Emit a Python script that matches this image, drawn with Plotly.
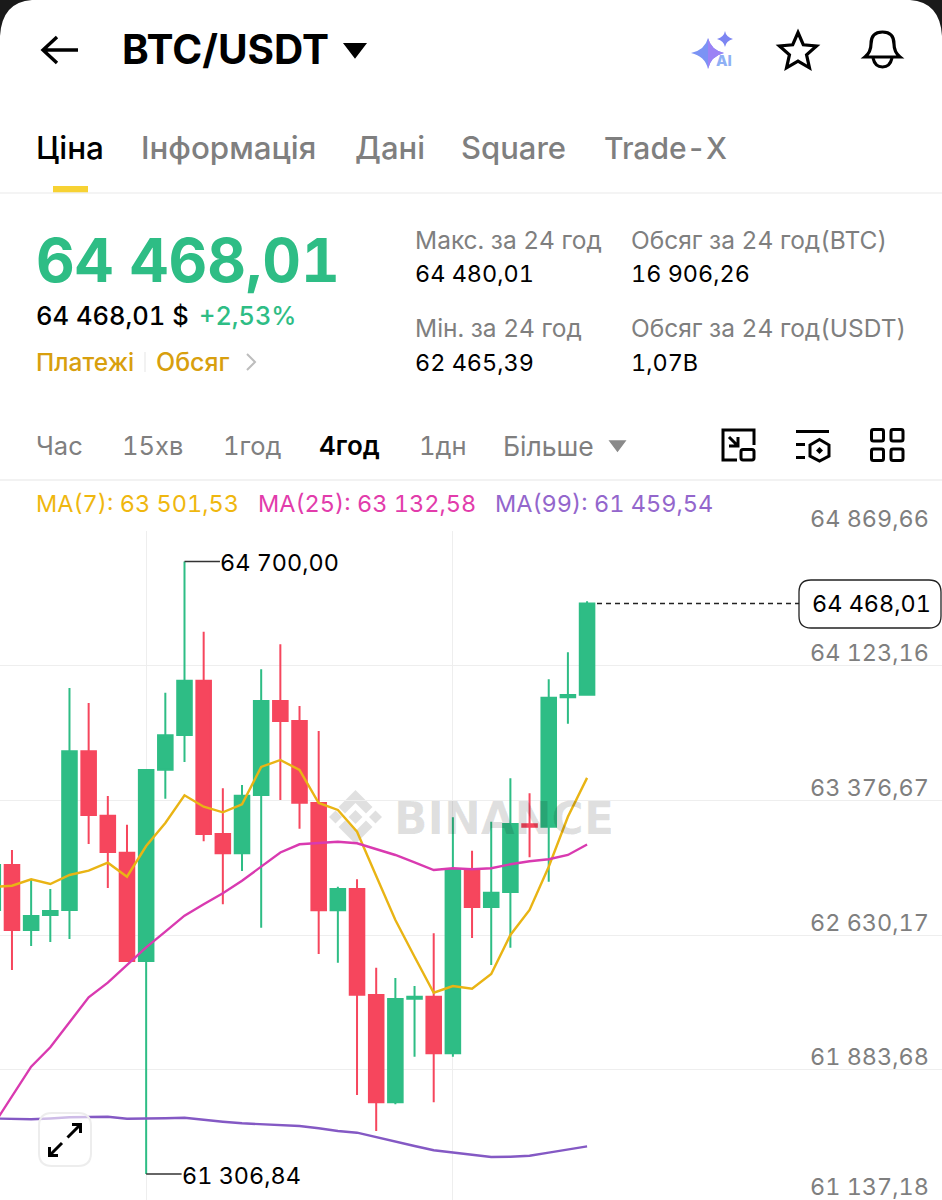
import re
import math
import plotly.graph_objects as go

# BTC/USDT 4h candles
candle_index = list(range(32))
opens = [62769.4, 63018.8, 62658.6, 62741.7, 62769.4, 63648.9, 63292.0, 63086.9,
         62486.8, 63546.9, 63739.2, 64040.1, 63190.6, 63083.6, 63406.7, 63927.6,
         63816.8, 63362.3, 62767.7, 62885.8, 62298.4, 61703.8, 62277.9, 62288.9,
         61975.3, 62995.0, 62786.0, 62869.1, 63244.3, 63231.0, 63948.1, 63962.5]
closes = [63018.8, 62658.6, 62736.1, 62763.9, 63648.9, 63295.9, 63090.8, 62486.8,
          63545.2, 63737.5, 64040.1, 63190.6, 63083.6, 63402.8, 63927.6, 63816.8,
          63364.0, 62767.7, 62885.8, 62300.0, 61703.8, 62276.2, 62288.9, 61975.3,
          62996.6, 62786.0, 62865.3, 63246.0, 63231.0, 63945.9, 63960.9, 64468.01]
highs = [63046.5, 63101.9, 62941.2, 62885.8, 63999.7, 63916.5, 63401.2, 63242.1,
         63550.8, 63973.6, 64700.0, 64311.7, 63443.8, 63462.1, 64103.3, 64241.8,
         63899.9, 63761.3, 62898.5, 62939.5, 62449.7, 62392.6, 62348.2, 62640.3,
         63283.1, 63098.0, 63258.8, 63499.2, 63416.1, 64047.9, 64197.5, 64480.01]
lows = [62741.7, 62436.9, 62569.9, 62592.1, 62608.7, 63135.1, 62891.3, 62486.8,
        61306.84, 63386.2, 63589.6, 63150.1, 62801.0, 62985.5, 62671.3, 63379.0,
        63219.9, 62525.6, 62477.4, 61744.2, 61544.6, 61692.7, 61956.4, 61703.8,
        61956.4, 62614.2, 62464.6, 62560.5, 63061.4, 62926.2, 63801.8, 63962.5]

ma7 = [62896.8, 62904.1, 62939.5, 62913.4, 62963.3, 62987.2, 63031.5, 62953.9,
       63124.1, 63251.5, 63405.0, 63341.9, 63310.8, 63355.2, 63561.9, 63600.7,
       63545.2, 63362.3, 63323.6, 63203.3, 62957.8, 62714.0, 62510.6, 62311.1,
       62348.2, 62333.3, 62414.7, 62630.9, 62769.4, 63009.4, 63286.4, 63501.53]
ma25 = [61572.4, 61738.7, 61901.0, 62008.5, 62150.4, 62285.6, 62366.5, 62464.6,
        62562.7, 62649.2, 62737.8, 62801.0, 62862.0, 62931.8, 63009.4, 63088.0,
        63133.5, 63139.0, 63147.9, 63139.0, 63105.8, 63074.2, 63033.8, 62991.1,
        63000.5, 62995.0, 63000.5, 63022.7, 63039.3, 63050.4, 63074.2, 63132.58]
ma99 = [61613.9, 61612.8, 61609.5, 61613.9, 61620.6, 61622.3, 61623.9, 61612.8,
        61612.8, 61615.6, 61618.4, 61605.7, 61596.2, 61587.3, 61583.5, 61579.6,
        61572.4, 61559.7, 61544.6, 61535.2, 61509.8, 61485.4, 61461.6, 61437.8,
        61424.5, 61411.7, 61400.6, 61402.3, 61407.8, 61424.5, 61441.1, 61459.54]

price_ticks = [64869.66, 64123.16, 63376.67, 62630.17, 61883.68, 61137.18]
price_tick_labels = ["64 869,66", "64 123,16", "63 376,67", "62 630,17", "61 883,68", "61 137,18"]
time_grid = [8, 24]

last_price = 64468.01
high_price = 64700.00
low_price = 61306.84

GREEN = "#2EBD85"
RED = "#F6465D"
GOLD = "#EFB70F"
PINK = "#E23CAB"
PURPLE = "#8459C4"
GREY = "#7F7F7F"
GRID = "#EEEEEE"
FONT = "Inter"

W, H = 942, 1200
PRICE_PER_PX = 5.5417
CHART_TOP = 531
CANDLE_STEP = 19.17
CANDLE_ZERO = -7.2


def px(x):
    return x / W


def py(y):
    return 1 - y / H


def price_paper(price):
    return py(CHART_TOP + (price_ticks[0] - price) / PRICE_PER_PX)


def index_at(x):
    return (x - CANDLE_ZERO) / CANDLE_STEP


def to_paper(d):
    """Rewrite an SVG path given in screen pixels into paper coordinates."""
    out, odd = [], True
    for tok in re.findall(r"[A-Za-z]|-?[\d.]+", d):
        if tok.isalpha():
            out.append(tok)
            odd = True
        else:
            out.append(f"{px(float(tok)) if odd else py(float(tok)):.6f}")
            odd = not odd
    return " ".join(out)


shapes, notes = [], []


def path(d, line=None, width=3.0, fill=None, layer="above"):
    shapes.append(dict(
        type="path", path=to_paper(d), xref="paper", yref="paper", layer=layer,
        line=dict(color=line or "rgba(0,0,0,0)", width=width if line else 0),
        fillcolor=fill or "rgba(0,0,0,0)",
    ))


def round_rect(x0, y0, x1, y1, r):
    return (f"M {x0+r} {y0} L {x1-r} {y0} Q {x1} {y0} {x1} {y0+r} L {x1} {y1-r} "
            f"Q {x1} {y1} {x1-r} {y1} L {x0+r} {y1} Q {x0} {y1} {x0} {y1-r} "
            f"L {x0} {y0+r} Q {x0} {y0} {x0+r} {y0} Z")


def label(x, y, s, size, color="#000000", weight=400, anchor="left", family=FONT):
    notes.append(dict(
        x=px(x), y=py(y), xref="paper", yref="paper", text=s, showarrow=False,
        xanchor=anchor, yanchor="middle", borderpad=0, borderwidth=0,
        font=dict(family=family, size=size, color=color, weight=weight),
    ))


# Screen corners behind the rounded app sheet
path("M 0 0 L 32 0 Q 2 2 0 36 Z", fill="#1A1A1A")
path("M 942 0 L 910 0 Q 940 2 942 36 Z", fill="#1A1A1A")

# Title bar
path("M 78 50 L 43 50 M 57 37 L 43 50 L 57 63", line="#000000", width=3.4)
label(122, 50, "BTC/USDT", 40.5, weight=700)
path("M 345 44 L 365 44 L 355 57 Z", line="#000000", width=2, fill="#000000")
path("M 708 38 Q 711 50 724 53 Q 711 56 708 69 Q 705 56 691 53 Q 705 50 708 38 Z", fill="#7B93F4")
path("M 708 38 Q 711 50 724 53 Q 711 56 708 69 Z", fill="#9C82F5")
path("M 725 31 Q 726 37 733 39 Q 726 41 725 47 Q 724 41 717 39 Q 724 37 725 31 Z", fill="#7C85F2")
label(716, 61, "AI", 15, color="#8FB0F5", weight=800)

star_pts = []
for k in range(10):
    r = 19.5 if k % 2 == 0 else 9
    a = -math.pi / 2 + k * math.pi / 5
    star_pts.append((798 + r * math.cos(a), 52 + r * math.sin(a)))
path("M " + " L ".join(f"{a:.2f} {b:.2f}" for a, b in star_pts) + " Z", line="#000000", width=3.2)
path("M 865 57 Q 871 52 871 44 Q 871 32 882.5 32 Q 894 32 894 44 Q 894 52 900 57 Z", line="#000000", width=3.2)
path("M 873 58 Q 875 67 882.5 67 Q 890 67 892 58", line="#000000", width=3.2)

# Section tabs
label(36, 148, "Ціна", 31.5, weight=500)
label(141, 148, "Інформація", 31.3, color=GREY, weight=500)
label(355, 148, "Дані", 31, color=GREY, weight=500)
label(461, 148, "Square", 31, color=GREY, weight=500)
label(604, 148, "Trade-X", 30, color=GREY, weight=500)
path("M 53 186 L 88 186 L 88 193 L 53 193 Z", fill="#F7D233")
path("M 0 193 L 942 193", line="#F0F0F0", width=1.5)

# Ticker summary
label(36, 260, "64 468,01", 60, color=GREEN, weight=700)
label(36, 316, "64 468,01 $", 25.5, weight=500)
label(199, 316, "+2,53%", 25.3, color=GREEN, weight=500)
label(36, 362, "Платежі", 24.5, color="#D89F0E", weight=500)
path("M 145 352 L 145 372", line="#EEEEEE", width=1.5)
label(156, 362, "Обсяг", 25, color="#D89F0E", weight=500)
path("M 247 354 L 255 362 L 247 370", line="#BDBDBD", width=2)
label(415, 240, "Макс. за 24 год", 24.5, color=GREY)
label(415, 274, "64 480,01", 23.4)
label(415, 328, "Мін. за 24 год", 24.5, color=GREY)
label(415, 362, "62 465,39", 23.4)
label(631, 240, "Обсяг за 24 год(BTC)", 24.5, color=GREY)
label(631, 274, "16 906,26", 23.4)
label(631, 328, "Обсяг за 24 год(USDT)", 24.5, color=GREY)
label(631, 362, "1,07B", 23.4)

# Interval selector
label(36, 446, "Час", 25.5, color=GREY)
label(122, 446, "15хв", 25.5, color=GREY)
label(223, 446, "1год", 25.5, color=GREY)
label(319, 446, "4год", 26, weight=600)
label(419, 446, "1дн", 25.5, color=GREY)
label(503, 446, "Більше", 26.5, color=GREY)
path("M 610 441 L 625 441 L 617.5 451 Z", line="#8A8A8A", width=1.5, fill="#8A8A8A")

path("M 754 445 L 754 430 L 723 430 L 723 460 L 737 460 M 729 437 L 738 446 M 738 437 L 738 446 L 729 446",
     line="#000000", width=3)
path(round_rect(741, 449.5, 754, 460, 2), line="#000000", width=3)
path("M 796 431.5 L 829 431.5 M 796 444.5 L 805 444.5 M 796 457.5 L 805 457.5", line="#000000", width=3)
path("M 819.5 439.5 L 829 445 L 829 456 L 819.5 461 L 810 456 L 810 445 Z", line="#000000", width=3)
path("M 819.5 447 L 823 450.5 L 819.5 454 L 816 450.5 Z", fill="#000000")
for x0 in (871.5, 891):
    for y0 in (429.5, 449):
        path(round_rect(x0, y0, x0 + 12, y0 + 11.5, 2), line="#000000", width=3)
path("M 0 480 L 942 480", line=GRID, width=1.5)

# Moving-average legend
label(36, 504, "MA(7): 63 501,53", 23.5, color=GOLD)
label(258, 504, "MA(25): 63 132,58", 23.5, color=PINK)
label(495, 504, "MA(99): 61 459,54", 23.5, color="#9366CC")

# Price scale labels sit just above their grid lines
for tick, tick_text in zip(price_ticks, price_tick_labels):
    notes.append(dict(
        x=px(930), y=price_paper(tick), xref="paper", yref="paper", text=tick_text,
        showarrow=False, xanchor="right", yanchor="middle",
        yshift=18 if tick == price_ticks[-1] else 13, borderpad=0,
        font=dict(family=FONT, size=23.4, color=GREY),
    ))

# Last price marker
shapes.append(dict(type="line", xref="x", yref="y", x0=index_at(597), x1=index_at(799),
                   y0=last_price, y1=last_price, line=dict(color="#222222", width=1.3, dash="5px,4px")))
path(round_rect(799, 580, 941, 628, 12), line="#222222", width=1.3, fill="#FFFFFF")
notes.append(dict(x=px(811), y=price_paper(last_price), xref="paper", yref="paper",
                  text="64 468,01", showarrow=False, xanchor="left", yanchor="middle", borderpad=0,
                  font=dict(family=FONT, size=23.4, color="#000000")))

# Leaders to the extreme high and low
for i_mark, price, text, nudge in ((10, high_price, "64 700,00", -1), (8, low_price, "61 306,84", -2)):
    shapes.append(dict(type="line", xref="x", yref="paper", x0=i_mark, x1=i_mark + 1.85,
                       y0=price_paper(price), y1=price_paper(price), line=dict(color="#333333", width=1.5)))
    notes.append(dict(x=i_mark + 1.85, y=price_paper(price), xref="x", yref="paper", text=text,
                      showarrow=False, xanchor="left", yanchor="middle", yshift=nudge, xshift=-1, borderpad=0,
                      font=dict(family=FONT, size=23.4, color="#000000")))

# Exchange watermark
WM = "rgba(0,0,0,0.12)"
cx, cy = 355.5, 817
for sx, sy, r in ((cx, cy, 7), (cx - 20, cy, 6.5), (cx + 20, cy, 6.5)):
    path(f"M {sx} {sy-r} L {sx+r} {sy} L {sx} {sy+r} L {sx-r} {sy} Z", fill=WM, layer="below")
path(f"M {cx} {cy-27} L {cx+17} {cy-10} L {cx+10.5} {cy-3.5} L {cx} {cy-14} L {cx-10.5} {cy-3.5} L {cx-17} {cy-10} Z",
     fill=WM, layer="below")
path(f"M {cx} {cy+27} L {cx+17} {cy+10} L {cx+10.5} {cy+3.5} L {cx} {cy+14} L {cx-10.5} {cy+3.5} L {cx-17} {cy+10} Z",
     fill=WM, layer="below")
label(394, 818, "BINANCE", 44, color=WM, weight=700, family="DejaVu Sans")

# Expand button
path(round_rect(39, 1113, 91, 1166, 13), line="#EDEDED", width=2, fill="rgba(255,255,255,0.6)")
path("M 67.5 1137.5 L 80.5 1124.5 M 72 1124.5 L 80.5 1124.5 L 80.5 1133", line="#000000", width=3)
path("M 62 1143 L 49.5 1155.5 M 49.5 1147 L 49.5 1155.5 L 58 1155.5", line="#000000", width=3)

fig = go.Figure()
fig.add_trace(go.Candlestick(
    x=candle_index, open=opens, high=highs, low=lows, close=closes,
    increasing=dict(line=dict(color=GREEN, width=2), fillcolor=GREEN),
    decreasing=dict(line=dict(color=RED, width=2), fillcolor=RED),
    whiskerwidth=0, showlegend=False, hoverinfo="skip",
))
for name, series, color in (("MA(7)", ma7, "#E9B414"), ("MA(25)", ma25, "#D93AB0"), ("MA(99)", ma99, PURPLE)):
    fig.add_trace(go.Scatter(x=candle_index, y=series, mode="lines", name=name,
                             line=dict(color=color, width=2.4), showlegend=False, hoverinfo="skip"))

chart_bottom = price_ticks[0] - (H - CHART_TOP) * PRICE_PER_PX
fig.update_layout(
    width=W, height=H, autosize=False,
    margin=dict(l=0, r=0, t=0, b=0),
    paper_bgcolor="#FFFFFF", plot_bgcolor="#FFFFFF",
    showlegend=False, hovermode=False, dragmode=False,
    boxgap=0.24, boxgroupgap=0,
    shapes=shapes, annotations=notes,
    xaxis=dict(range=[index_at(0), index_at(W)], tickvals=time_grid, showticklabels=False,
               showgrid=True, gridcolor=GRID, gridwidth=1.2, zeroline=False, showline=False,
               ticks="", rangeslider=dict(visible=False), fixedrange=True),
    yaxis=dict(domain=[0, (H - CHART_TOP) / H], range=[chart_bottom, price_ticks[0]],
               tickvals=price_ticks, showticklabels=False, showgrid=True, gridcolor=GRID,
               gridwidth=1.2, zeroline=False, showline=False, ticks="", fixedrange=True),
)

# Figures in the app align in columns, so switch to the tabular digit set. The text boxes are
# cached by font size, so a tiny size change makes Plotly measure them again.
tabular_digits = """
var style = document.createElement('style');
style.textContent = 'svg text {font-variant-numeric: tabular-nums; font-feature-settings: "tnum";}';
document.head.appendChild(style);
var gd = document.getElementById('{plot_id}');
var update = {};
gd.layout.annotations.forEach(function (a, i) {
    update['annotations[' + i + '].font.size'] = a.font.size + 0.01;
});
Plotly.relayout(gd, update);
"""
fig.write_html("out.html", config=dict(displayModeBar=False), post_script=tabular_digits)
